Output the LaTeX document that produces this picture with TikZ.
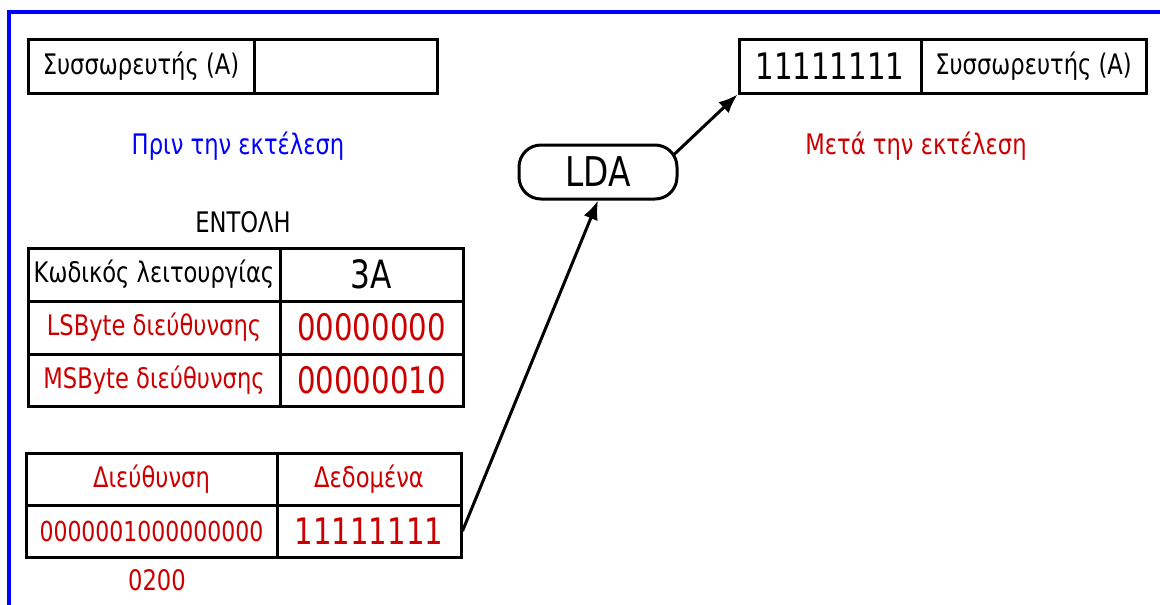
\documentclass[tikz,border=0pt]{standalone}
\usepackage{fontspec}
\setmainfont{DejaVu Sans}[FakeStretch=0.8]
\usetikzlibrary{arrows.meta,calc}
\definecolor{dred}{RGB}{204,0,0}
\definecolor{fblue}{RGB}{0,0,255}
\tikzset{
  cell/.style={draw=black, line width=3pt, inner sep=0pt, minimum height=53pt, font=\fontsize{28.3}{32}\selectfont},
  big/.style={font=\fontsize{36.5}{40}\selectfont},
  lbl/.style={inner sep=0pt, font=\fontsize{28.3}{32}\selectfont},
  conn/.style={line width=3pt, -{Latex[length=19pt,width=15pt]}},
}
\begin{document}
\begin{tikzpicture}[x=1pt,y=-1pt]
\useasboundingbox (0,0) rectangle (1160,605);
% frame
\draw[fblue, line width=4pt] (9,610) -- (9,12) -- (1170,12);
% before
\node[cell, minimum width=226pt, minimum height=54pt] (a1) at (141,66) {Συσσωρευτής (A)};
\node[cell, minimum width=183pt, minimum height=54pt] (a2) at (345.5,66) {};
\node[lbl, text=fblue] (before) at (238,146) {Πριν την εκτέλεση};
% after
\node[cell, big, minimum width=182pt, minimum height=54pt] (r1) at (830,66) {11111111};
\node[cell, minimum width=225pt, minimum height=54pt] (r2) at (1033.5,66) {Συσσωρευτής (A)};
\node[lbl, text=dred] (after) at (916,146) {Μετά την εκτέλεση};
% LDA
\node[draw, line width=3pt, rounded corners=22pt, minimum width=158pt, minimum height=54pt, inner sep=0pt, font=\fontsize{41}{45}\selectfont] (lda) at (598,172) {LDA};
\coordinate (ldaout) at ($(lda.east)+(-5,-17)$);
% instruction table
\node[lbl] (entoli) at (243,222) {ΕΝΤΟΛΗ};
\node[cell, minimum width=252pt] (t11) at (154,274.5) {Κωδικός λειτουργίας};
\node[cell, font=\fontsize{39}{42}\selectfont, minimum width=183pt] (t12) at (371.5,274.5) {3A};
\node[cell, text=dred, minimum width=252pt] (t21) at (154,327.5) {LSByte διεύθυνσης};
\node[cell, big, text=dred, minimum width=183pt] (t22) at (371.5,327.5) {00000000};
\node[cell, text=dred, minimum width=252pt, minimum height=52pt] (t31) at (154,380) {MSByte διεύθυνσης};
\node[cell, big, text=dred, minimum width=183pt, minimum height=52pt] (t32) at (371.5,380) {00000010};
% memory table
\node[cell, text=dred, minimum width=251pt, minimum height=52pt] (d11) at (151.5,479) {Διεύθυνση};
\node[cell, text=dred, minimum width=184pt, minimum height=52pt] (d12) at (369,479) {Δεδομένα};
\node[cell, text=dred, minimum width=251pt, minimum height=52pt, font=\fontsize{27.5}{32}\selectfont] (d21) at (151.5,531) {0000001000000000};
\node[cell, big, text=dred, minimum width=184pt, minimum height=52pt] (d22) at (369,531) {11111111};
\node[lbl, text=dred] (addr) at (157,580) {0200};
% connectors
\draw[conn] (d22.east) -- (lda.south);
\draw[conn] (ldaout) -- (r1.south west);
\end{tikzpicture}
\end{document}
